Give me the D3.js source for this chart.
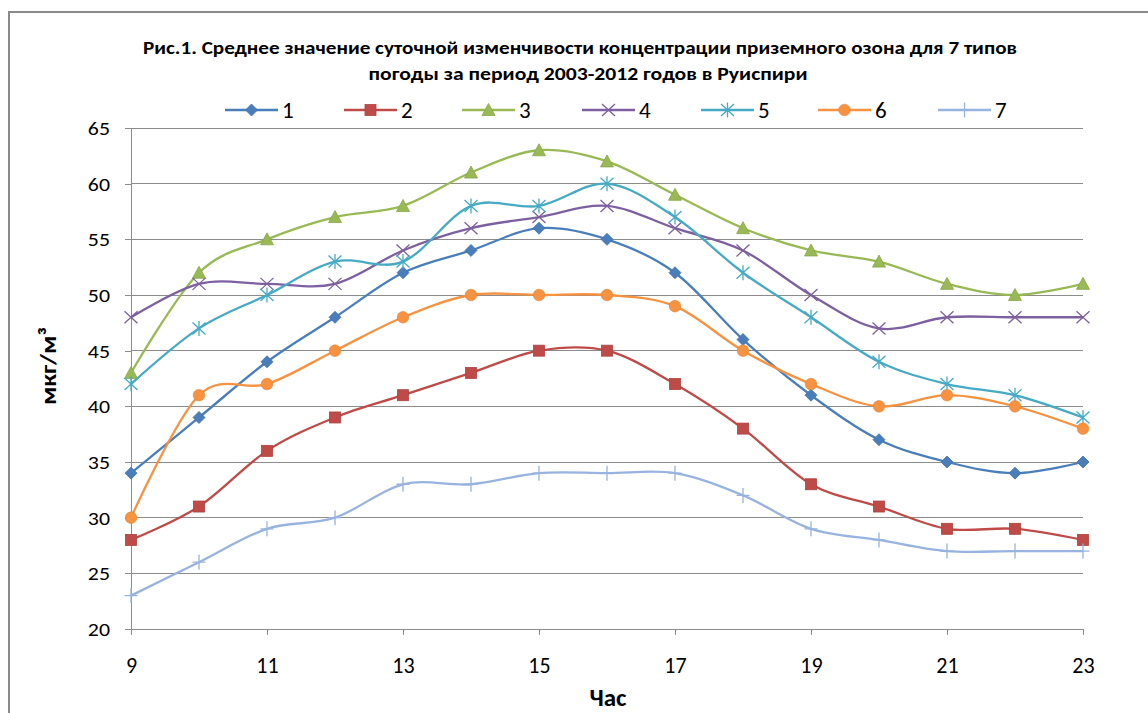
<!DOCTYPE html>
<html><head><meta charset="utf-8">
<script src="https://cdn.jsdelivr.net/npm/d3@7"></script>
<style>
html,body{margin:0;padding:0;background:#fff;}
svg{display:block;}
</style></head>
<body>
<svg id="chart" width="1148" height="713"></svg>
<script>
const hours = [9,10,11,12,13,14,15,16,17,18,19,20,21,22,23];
const xTickLabels = [9,11,13,15,17,19,21,23];
const yTickLabels = [20,25,30,35,40,45,50,55,60,65];
const seriesNames = ["1","2","3","4","5","6","7"];
const s1 = [34,39,44,48,52,54,56,55,52,46,41,37,35,34,35];
const s2 = [28,31,36,39,41,43,45,45,42,38,33,31,29,29,28];
const s3 = [43,52,55,57,58,61,63,62,59,56,54,53,51,50,51];
const s4 = [48,51,51,51,54,56,57,58,56,54,50,47,48,48,48];
const s5 = [42,47,50,53,53,58,58,60,57,52,48,44,42,41,39];
const s6 = [30,41,42,45,48,50,50,50,49,45,42,40,41,40,38];
const s7 = [23,26,29,30,33,33,34,34,34,32,29,28,27,27,27];
const seriesValues = [s1,s2,s3,s4,s5,s6,s7];
const colors = ["#4A7EBB","#BE4B48","#98B954","#7D60A0","#46AAC5","#F69240","#98B3DF"];
const markers = ["diamond","square","triangle","x","star","circle","plus"];
const titleLines = ["Рис.1. Среднее значение суточной изменчивости концентрации приземного озона для 7 типов","погоды за период 2003-2012 годов в Руиспири"];

const svg = d3.select("#chart");
const font = "Carlito, 'Liberation Sans Narrow', 'DejaVu Sans Condensed', Arial, sans-serif";

// border
svg.append("path").attr("d","M9,713 L9,12 L1148,12").attr("fill","none").attr("stroke","#8a8a8a").attr("stroke-width",2);

const x = d3.scaleLinear().domain([9,23]).range([131,1083]);
const y = d3.scaleLinear().domain([20,65]).range([629,128]);

// gridlines
svg.append("g").selectAll("line").data(yTickLabels.filter(v=>v>20)).join("line")
  .attr("x1",131).attr("x2",1083).attr("y1",d=>y(d)).attr("y2",d=>y(d))
  .attr("stroke","#8c8c8c").attr("stroke-width",1).attr("shape-rendering","crispEdges");

// y axis
const yAxis = d3.axisLeft(y).tickValues(yTickLabels).tickSize(6).tickPadding(0).tickFormat(()=> "");
const gy = svg.append("g").attr("transform","translate(131,0)").call(yAxis);
gy.select(".domain").attr("stroke","#8c8c8c").attr("shape-rendering","crispEdges");
gy.selectAll(".tick line").attr("stroke","#8c8c8c").attr("shape-rendering","crispEdges");
gy.selectAll(".tick").append("text")
  .attr("transform","translate(-21,0) scale(1.15,1)")
  .attr("text-anchor","end").attr("dy","0.34em")
  .attr("font-family",font).attr("font-size",19).attr("fill","#000")
  .text(d=>d);

// x axis
const xAxis = d3.axisBottom(x).tickValues(xTickLabels).tickSize(6).tickSizeOuter(0).tickPadding(0).tickFormat(()=> "");
const gx = svg.append("g").attr("transform","translate(0,629)").call(xAxis);
gx.select(".domain").attr("stroke","#8c8c8c").attr("shape-rendering","crispEdges");
gx.selectAll(".tick line").attr("stroke","#8c8c8c").attr("shape-rendering","crispEdges");
gx.selectAll(".tick").append("text")
  .attr("y",44).attr("text-anchor","middle")
  .attr("font-family",font).attr("font-size",22).attr("fill","#000")
  .text(d=>d);

// title
svg.append("text").attr("x",580).attr("y",54).attr("text-anchor","middle")
  .attr("font-family",font).attr("font-weight","bold").attr("font-size",17)
  .attr("textLength",874).attr("lengthAdjust","spacingAndGlyphs").text(titleLines[0]);
svg.append("text").attr("x",588).attr("y",80).attr("text-anchor","middle")
  .attr("font-family",font).attr("font-weight","bold").attr("font-size",17)
  .attr("textLength",439).attr("lengthAdjust","spacingAndGlyphs").text(titleLines[1]);

// axis titles
svg.append("text").attr("transform","translate(56,366) rotate(-90)").attr("text-anchor","middle")
  .attr("font-family",font).attr("font-weight","bold").attr("font-size",23)
  .attr("textLength",78).attr("lengthAdjust","spacingAndGlyphs")
  .text("мкг/м³");
svg.append("text").attr("x",608).attr("y",706).attr("text-anchor","middle")
  .attr("font-family",font).attr("font-weight","bold").attr("font-size",25)
  .text("Час");

function drawMarker(g, type, cx, cy, color) {
  const c = d3.color(color);
  const dark = c.darker(0.3).formatHex();
  if (type==="diamond") {
    g.append("path").attr("d",`M${cx},${cy-6}L${cx+6},${cy}L${cx},${cy+6}L${cx-6},${cy}Z`).attr("fill",color).attr("stroke",dark).attr("stroke-width",0.8);
  } else if (type==="square") {
    g.append("rect").attr("x",cx-5.5).attr("y",cy-5.5).attr("width",11).attr("height",11).attr("fill",color).attr("stroke",dark).attr("stroke-width",0.8);
  } else if (type==="triangle") {
    g.append("path").attr("d",`M${cx},${cy-6.5}L${cx+6.5},${cy+5.5}L${cx-6.5},${cy+5.5}Z`).attr("fill",color).attr("stroke",dark).attr("stroke-width",0.8);
  } else if (type==="x") {
    g.append("path").attr("d",`M${cx-6.5},${cy-6}L${cx+6.5},${cy+6}M${cx-6.5},${cy+6}L${cx+6.5},${cy-6}`).attr("stroke",color).attr("stroke-width",1.3);
  } else if (type==="star") {
    g.append("path").attr("d",`M${cx-6.5},${cy-6}L${cx+6.5},${cy+6}M${cx-6.5},${cy+6}L${cx+6.5},${cy-6}M${cx},${cy-7.5}L${cx},${cy+7.5}`).attr("stroke",color).attr("stroke-width",1.3);
  } else if (type==="circle") {
    g.append("circle").attr("cx",cx).attr("cy",cy).attr("r",5.8).attr("fill",color).attr("stroke",dark).attr("stroke-width",0.6);
  } else if (type==="plus") {
    g.append("path").attr("d",`M${cx-6.5},${cy}L${cx+6.5},${cy}M${cx},${cy-7.5}L${cx},${cy+7.5}`).attr("stroke",color).attr("stroke-width",1.3);
  }
}

const line = d3.line().x((d,i)=>x(hours[i])).y(d=>y(d)).curve(d3.curveCardinal.tension(0));

seriesValues.forEach((vals,k)=>{
  const g = svg.append("g");
  g.append("path").datum(vals).attr("d",line).attr("fill","none").attr("stroke",colors[k]).attr("stroke-width",2.3);
  vals.forEach((v,i)=>drawMarker(g, markers[k], x(hours[i]), y(v), colors[k]));
});

// legend
const legendX = [225,344,462,582,701,818,938];
seriesNames.forEach((nm,k)=>{
  const g = svg.append("g");
  const lx = legendX[k], ly = 110;
  g.append("line").attr("x1",lx).attr("x2",lx+53).attr("y1",ly).attr("y2",ly).attr("stroke",colors[k]).attr("stroke-width",2.3);
  drawMarker(g, markers[k], lx+26.5, ly, colors[k]);
  g.append("text").attr("x",lx+57).attr("y",ly+8).attr("font-family",font).attr("font-size",23).text(nm);
});
</script>
</body></html>
